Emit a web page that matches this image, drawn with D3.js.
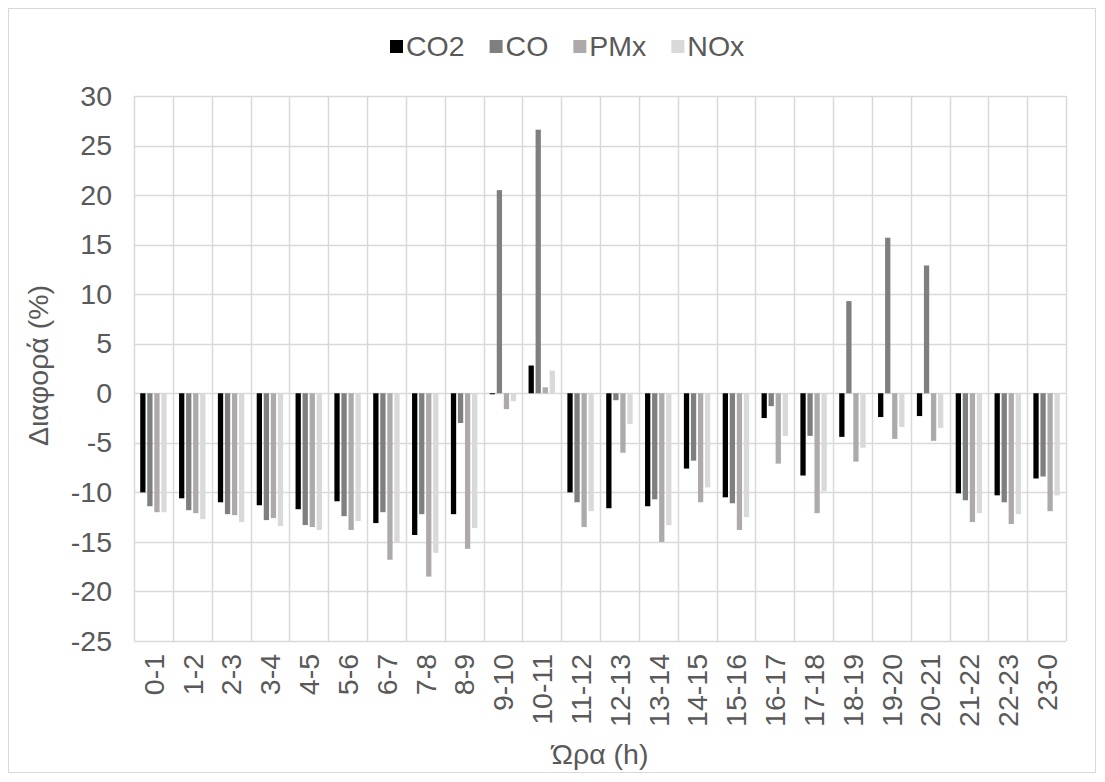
<!DOCTYPE html>
<html>
<head>
<meta charset="utf-8">
<script src="https://cdn.jsdelivr.net/npm/d3@7"></script>
<style>
  html, body { margin: 0; padding: 0; background: #fff; }
  svg text { font-family: "Liberation Sans", Arial, sans-serif; fill: #595959; }
</style>
</head>
<body>
<svg id="chart" width="1105" height="782"></svg>
<script>
// Hourly intervals
const hours = ["0-1","1-2","2-3","3-4","4-5","5-6","6-7","7-8","8-9","9-10","10-11","11-12",
               "12-13","13-14","14-15","15-16","16-17","17-18","18-19","19-20","20-21","21-22","22-23","23-0"];

// Percentage difference per pollutant
const co2 = [-10.0,-10.6,-11.0,-11.3,-11.7,-10.9,-13.1,-14.3,-12.2,-0.1,2.8,-10.0,
             -11.6,-11.4,-7.6,-10.5,-2.5,-8.3,-4.4,-2.4,-2.3,-10.1,-10.3,-8.6];
const co  = [-11.4,-11.8,-12.2,-12.8,-13.3,-12.4,-12.0,-12.2,-3.0,20.5,26.6,-11.0,
             -0.7,-10.7,-6.8,-11.1,-1.3,-4.3,9.3,15.7,12.9,-10.8,-11.0,-8.4];
const pmx = [-12.0,-12.1,-12.3,-12.6,-13.5,-13.8,-16.8,-18.5,-15.7,-1.6,0.6,-13.5,
             -6.0,-15.0,-11.0,-13.8,-7.1,-12.1,-6.9,-4.6,-4.8,-13.0,-13.2,-11.9];
const nox = [-12.0,-12.7,-13.0,-13.4,-13.8,-12.9,-15.0,-16.1,-13.6,-0.8,2.3,-11.9,
             -3.1,-13.3,-9.5,-12.5,-4.3,-9.9,-5.5,-3.4,-3.5,-12.1,-12.2,-10.3];

const seriesNames = ["CO2","CO","PMx","NOx"];
const yTicks = [-25,-20,-15,-10,-5,0,5,10,15,20,25,30];

const series = [
  { name: seriesNames[0], values: co2, color: "#000000" },
  { name: seriesNames[1], values: co,  color: "#7f7f7f" },
  { name: seriesNames[2], values: pmx, color: "#aeaaaa" },
  { name: seriesNames[3], values: nox, color: "#d9d9d9" }
];

const FONT = 28.5;
const svg = d3.select("#chart");
const plot = { left: 134, right: 1066, top: 96, bottom: 641 };

// outer chart frame
svg.append("rect")
  .attr("x", 8.5).attr("y", 8.5)
  .attr("width", 1087).attr("height", 764)
  .attr("fill", "#fff").attr("stroke", "#d9d9d9").attr("stroke-width", 1);

const x0 = d3.scaleBand().domain(hours).range([plot.left, plot.right]).padding(0);
const inset = x0.bandwidth() * 0.16;
const x1 = d3.scaleBand().domain(seriesNames)
  .range([inset, x0.bandwidth() - inset]).paddingInner(0.25).paddingOuter(0);
const y = d3.scaleLinear().domain([-25, 30]).range([plot.bottom, plot.top]);

const grid = svg.append("g").attr("class", "grid");
// horizontal gridlines
grid.selectAll("line.h").data(yTicks).join("line")
  .attr("class", "h")
  .attr("x1", plot.left).attr("x2", plot.right)
  .attr("y1", d => Math.round(y(d)) + 0.5).attr("y2", d => Math.round(y(d)) + 0.5)
  .attr("stroke", "#d9d9d9").attr("stroke-width", 1.5);
// vertical gridlines at category boundaries
const bounds = hours.map(h => x0(h)).concat([plot.right]);
grid.selectAll("line.v").data(bounds).join("line")
  .attr("class", "v")
  .attr("x1", d => Math.round(d) + 0.5).attr("x2", d => Math.round(d) + 0.5)
  .attr("y1", plot.top).attr("y2", plot.bottom)
  .attr("stroke", "#d9d9d9").attr("stroke-width", 1.5);

// bars
const groups = svg.append("g").selectAll("g").data(hours).join("g")
  .attr("transform", d => `translate(${x0(d)},0)`);
groups.selectAll("rect")
  .data((h, i) => series.map(s => ({ name: s.name, v: s.values[i], color: s.color })))
  .join("rect")
  .attr("x", d => x1(d.name))
  .attr("width", x1.bandwidth())
  .attr("y", d => y(Math.max(0, d.v)))
  .attr("height", d => Math.abs(y(d.v) - y(0)))
  .attr("fill", d => d.color);

// y axis labels
const yAxis = d3.axisLeft(y).tickValues(yTicks).tickSize(0).tickPadding(22).tickFormat(d => String(d));
const yg = svg.append("g").attr("transform", `translate(${plot.left},0)`).call(yAxis);
yg.select(".domain").remove();
yg.selectAll("text").attr("font-size", FONT).style("fill", "#595959")
  .style("font-family", "'Liberation Sans', Arial, sans-serif");

// x axis labels (rotated)
const xAxis = d3.axisBottom(x0).tickSize(0).tickPadding(0);
const xg = svg.append("g").attr("transform", `translate(0,${plot.bottom})`).call(xAxis);
xg.select(".domain").remove();
xg.selectAll("text")
  .attr("font-size", FONT)
  .style("fill", "#595959")
  .style("font-family", "'Liberation Sans', Arial, sans-serif")
  .attr("text-anchor", "end")
  .attr("transform", "translate(0,13) rotate(-90)")
  .attr("x", 0).attr("y", 0).attr("dy", "0.36em");

// axis titles
svg.append("text")
  .attr("x", (plot.left + plot.right) / 2).attr("y", 764)
  .attr("text-anchor", "middle").attr("font-size", FONT)
  .text("Ώρα (h)");
svg.append("text")
  .attr("transform", `translate(48,${(plot.top + plot.bottom) / 2 - 3}) rotate(-90)`)
  .attr("text-anchor", "middle").attr("font-size", FONT)
  .text("Διαφορά (%)");

// legend
const legend = svg.append("g").attr("transform", "translate(0,46)");
const items = legend.selectAll("g").data(series).join("g");
items.append("rect")
  .attr("width", 13).attr("height", 13).attr("y", -6)
  .attr("fill", d => d.color);
items.append("text")
  .attr("x", 16).attr("dy", "0.36em").attr("font-size", FONT)
  .text(d => d.name);
// lay out legend entries side by side
const gap = 25;
const widths = [];
items.each(function () { widths.push(this.getBBox().width); });
let cx = 390;
items.attr("transform", (d, i) => {
  const t = `translate(${cx},0)`;
  cx += widths[i] + gap;
  return t;
});
</script>
</body>
</html>
